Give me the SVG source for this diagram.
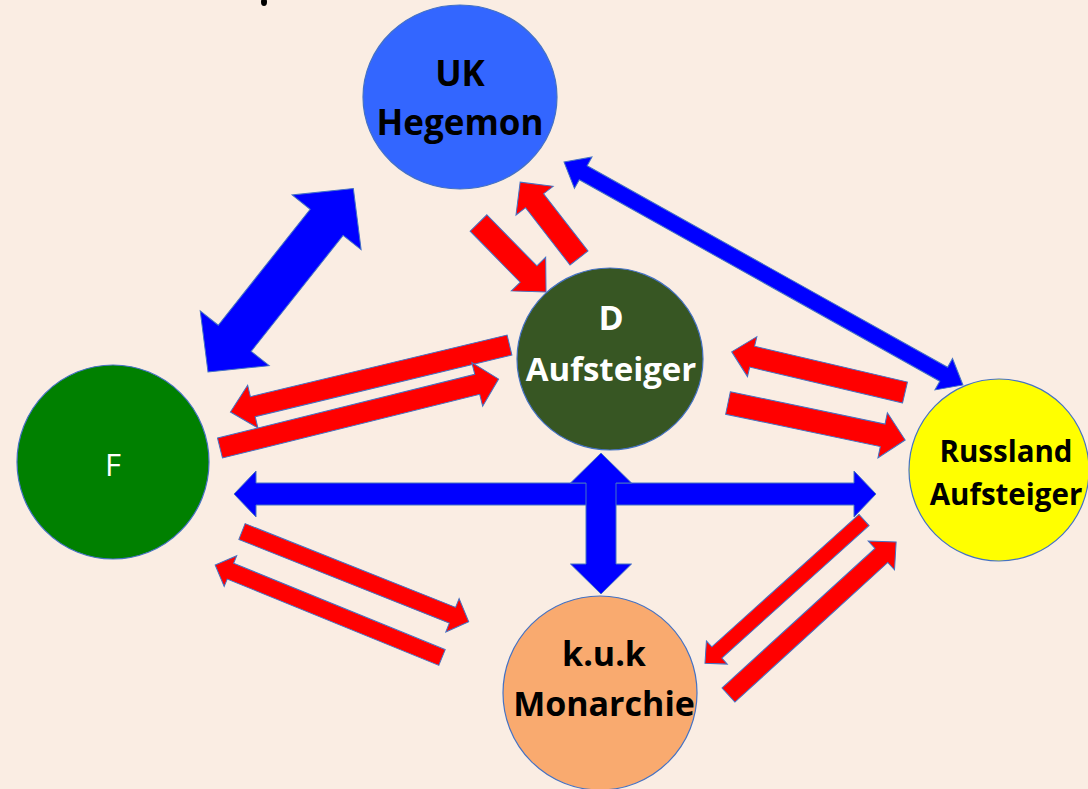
<svg xmlns="http://www.w3.org/2000/svg" width="1088" height="789" viewBox="0 0 1088 789">
<style>
.node{stroke:#4472C4;stroke-width:1.2}
.red{fill:#FF0000;stroke:#4472C4;stroke-width:1}
.blue{fill:#0000FF;stroke:#4472C4;stroke-width:1}
.lbl{font-family:"Open Sans","Noto Sans","DejaVu Sans",sans-serif;font-weight:bold;text-anchor:middle}
</style>
<rect width="1088" height="789" fill="#FAEDE3"/>
<ellipse cx="264" cy="2" rx="3" ry="4" fill="#000"/>
<g id="connectors">
  <polygon class="blue" transform="translate(208,372) rotate(-51.6)" points="0,0 43,-44 43,-21 191,-21 191,-44 234,0 191,44 191,21 43,21 43,44"/>
  <polygon class="blue" transform="translate(564,162) rotate(29.2)" points="0,0 22,-18 22,-8 435,-8 435,-18 457,0 435,18 435,8 22,8 22,18"/>
  <polygon class="red" transform="translate(478.5,223) rotate(45.6)" points="0,-11.7 71.5,-11.7 71.5,-24 96.5,0 71.5,24 71.5,11.7 0,11.7"/>
  <polygon class="red" transform="translate(579,258) rotate(-127.8)" points="0,-11.4 72.5,-11.4 72.5,-23.5 96,0 72.5,23.5 72.5,11.4 0,11.4"/>
  <polygon class="red" transform="translate(509.5,345) rotate(166.5)" points="0,-10.3 264,-10.3 264,-22 287,0 264,22 264,10.3 0,10.3"/>
  <polygon class="red" transform="translate(220,448) rotate(-13.9)" points="0,-10.3 265,-10.3 265,-22.5 287,0 265,22.5 265,10.3 0,10.3"/>
  <polygon class="red" transform="translate(905,392.5) rotate(193.2)" points="0,-10.7 157,-10.7 157,-20.5 178,0 157,20.5 157,10.7 0,10.7"/>
  <polygon class="red" transform="translate(728,403) rotate(11.8)" points="0,-11.5 158,-11.5 158,-23 181,0 158,23 158,11.5 0,11.5"/>
  <polygon class="blue" points="234,494 256,471 256,483 854,483 854,471 876,494 854,517 854,505 256,505 256,517"/>
  <polygon class="blue" points="601,453 631.5,483 616,483 616,564 631.5,564 601,594 570.5,564 586,564 586,483 570.5,483"/>
  <polygon class="red" transform="translate(242,531.5) rotate(21.7)" points="0,-8.5 226.5,-8.5 226.5,-18 244,0 226.5,18 226.5,8.5 0,8.5"/>
  <polygon class="red" transform="translate(442,657.5) rotate(202.2)" points="0,-8.5 228.5,-8.5 228.5,-16.6 245,0 228.5,16.6 228.5,8.5 0,8.5"/>
  <polygon class="red" transform="translate(864,520) rotate(138)" points="0,-7.5 198,-7.5 198,-15.6 214,0 198,15.6 198,7.5 0,7.5"/>
  <polygon class="red" transform="translate(728.5,695) rotate(-42.4)" points="0,-9.5 207,-9.5 207,-19.5 227,0 207,19.5 207,9.5 0,9.5"/>
</g>
<g id="node-uk">
  <ellipse class="node" cx="460" cy="97" rx="97" ry="92" fill="#3366FF"/>
  <text class="lbl" x="460" y="86" font-size="35" fill="#000">UK</text>
  <text class="lbl" x="460" y="135" font-size="35" fill="#000">Hegemon</text>
</g>
<g id="node-d">
  <ellipse class="node" cx="610" cy="359" rx="93" ry="91" fill="#375623"/>
  <text class="lbl" x="611" y="330" font-size="34" fill="#FFF">D</text>
  <text class="lbl" x="611" y="381" font-size="33" fill="#FFF">Aufsteiger</text>
</g>
<g id="node-f">
  <ellipse class="node" cx="113" cy="462" rx="96" ry="97" fill="#008000"/>
  <text x="113" y="476" font-size="31" fill="#FFF" font-family="'Open Sans','Noto Sans',sans-serif" text-anchor="middle">F</text>
</g>
<g id="node-russland">
  <ellipse class="node" cx="999" cy="470" rx="90" ry="91" fill="#FFFF00"/>
  <text class="lbl" x="1006" y="462" font-size="29.5" fill="#000">Russland</text>
  <text class="lbl" x="1006" y="505" font-size="29.5" fill="#000">Aufsteiger</text>
</g>
<g id="node-kuk">
  <ellipse class="node" cx="600" cy="693" rx="97" ry="97" fill="#F9AA6F"/>
  <text class="lbl" x="604" y="666" font-size="34" fill="#000">k.u.k</text>
  <text class="lbl" x="604" y="716" font-size="34" fill="#000">Monarchie</text>
</g>
</svg>
